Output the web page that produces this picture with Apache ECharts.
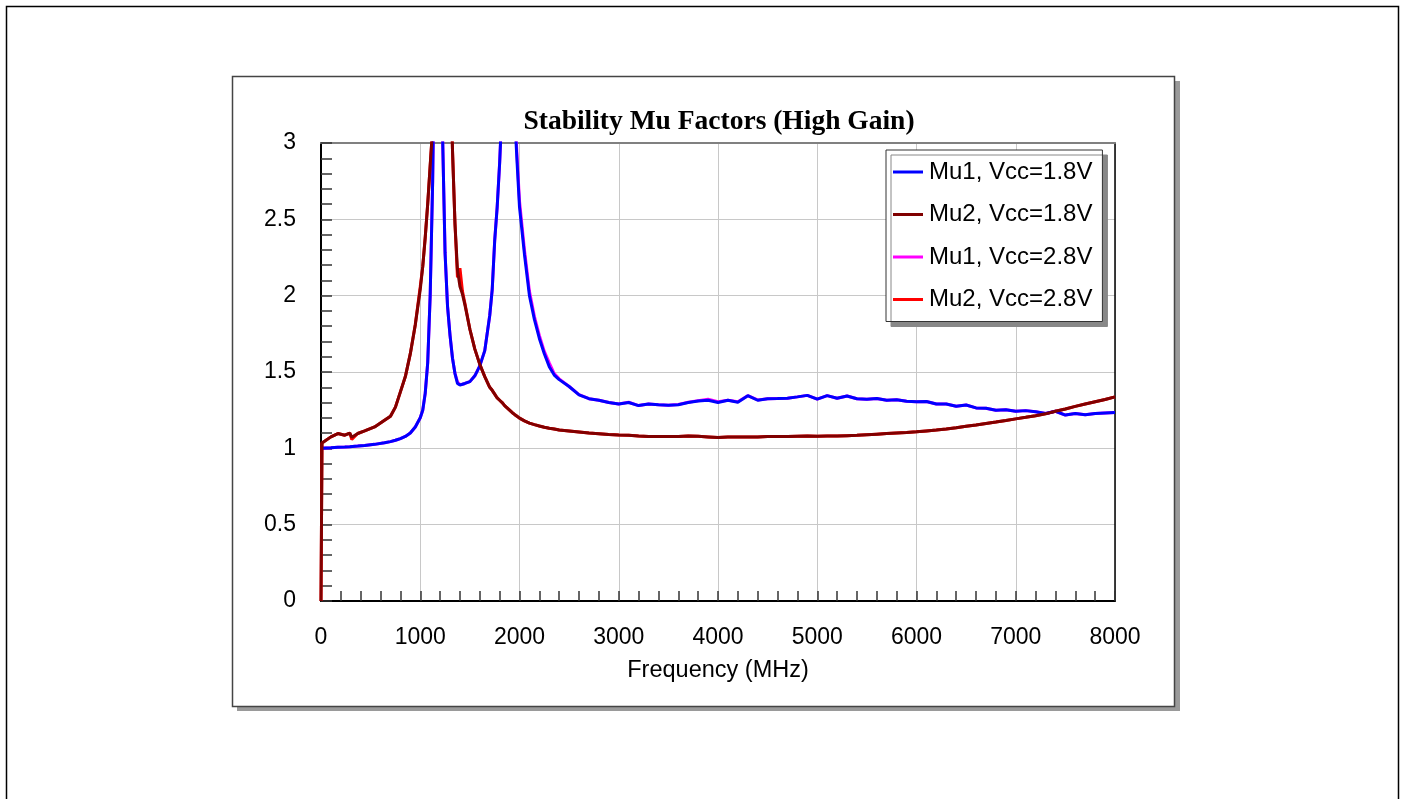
<!DOCTYPE html>
<html><head><meta charset="utf-8">
<script src="https://cdn.jsdelivr.net/npm/echarts@6/dist/echarts.min.js"></script>
<style>html,body{margin:0;padding:0;background:#fff}#c{width:1405px;height:799px}</style>
</head><body><div id="c"></div>
<script>
const freqs = [0,10,100,170,240,290,310,370,440,540,
640,700,750,800,850,900,950,1000,1025,1050,
1075,1100,1125,1150,1175,1200,1225,1250,1275,1300,
1325,1350,1375,1400,1425,1450,1500,1550,1600,1650,
1700,1725,1750,1775,1800,1825,1850,1875,1900,1925,
1950,1975,2000,2050,2100,2150,2200,2250,2300,2350,
2400,2500,2600,2700,2800,
2900,3000,3100,3200,3300,3400,3500,3600,3700,3800,
3900,4000,4100,4200,4300,4400,4500,4600,4700,4800,
4900,5000,5100,5200,5300,5400,5500,5600,5700,5800,
5900,6000,6100,6200,6300,6400,6500,6600,6700,6800,
6900,7000,7100,7200,7300,7400,7500,7600,7700,7800,
7900,8000];

const mu1_18 = [1.00,1.00,1.004,1.007,1.009,1.011,1.012,1.015,1.019,1.026,
1.036,1.044,1.053,1.064,1.078,1.10,1.14,1.20,1.25,1.36,
1.56,2.00,2.75,4.0,6.0,4.6,3.05,2.28,1.93,1.74,
1.59,1.49,1.425,1.415,1.42,1.425,1.437,1.475,1.54,1.64,
1.87,2.04,2.36,2.58,2.87,3.25,4.2,6.0,6.0,4.5,
3.2,2.88,2.58,2.27,2.00,1.845,1.72,1.62,1.535,1.48,
1.45,1.405,1.35,1.325,1.315,
1.30,1.29,1.30,1.28,1.29,1.285,1.282,1.285,1.30,1.31,
1.315,1.30,1.315,1.302,1.345,1.315,1.325,1.326,1.328,1.337,
1.347,1.322,1.345,1.328,1.343,1.325,1.322,1.327,1.315,1.318,
1.308,1.305,1.307,1.29,1.29,1.276,1.284,1.265,1.263,1.25,
1.253,1.243,1.247,1.24,1.228,1.243,1.218,1.228,1.22,1.228,
1.232,1.234];

const mu2_18 = [0,1.035,1.075,1.097,1.086,1.10,1.072,1.097,1.114,1.14,
1.184,1.21,1.27,1.37,1.47,1.62,1.81,2.04,2.19,2.38,
2.60,2.85,3.1,3.6,4.5,6.0,7.0,6.0,4.8,3.6,
2.95,2.47,2.17,2.06,2.01,1.94,1.78,1.65,1.55,1.47,
1.40,1.38,1.355,1.33,1.315,1.30,1.28,1.265,1.25,1.235,
1.222,1.21,1.198,1.18,1.165,1.155,1.146,1.138,1.132,1.127,
1.12,1.114,1.107,1.10,1.096,
1.09,1.087,1.085,1.08,1.077,1.078,1.077,1.078,1.08,1.079,
1.075,1.071,1.074,1.075,1.074,1.075,1.077,1.077,1.078,1.079,
1.08,1.079,1.08,1.081,1.083,1.085,1.089,1.093,1.097,1.10,
1.103,1.108,1.114,1.12,1.127,1.135,1.144,1.153,1.163,1.172,
1.182,1.193,1.203,1.214,1.226,1.243,1.258,1.275,1.29,1.305,
1.32,1.337];

const mu1_28 = [1.00,1.00,1.004,1.007,1.009,1.011,1.012,1.015,1.019,1.026,
1.036,1.044,1.053,1.064,1.078,1.10,1.14,1.20,1.25,1.36,
1.56,2.00,2.75,4.0,6.0,4.6,3.05,2.28,1.93,1.74,
1.59,1.49,1.435,1.418,1.42,1.425,1.437,1.475,1.54,1.64,
1.87,2.04,2.36,2.58,2.87,3.25,4.2,6.0,6.0,4.5,
3.25,2.92,2.62,2.30,2.03,1.865,1.74,1.635,1.56,1.49,
1.455,1.405,1.352,1.325,1.315,
1.30,1.29,1.302,1.28,1.29,1.285,1.283,1.287,1.302,1.312,
1.322,1.305,1.315,1.305,1.345,1.317,1.325,1.327,1.328,1.337,
1.347,1.322,1.345,1.328,1.343,1.325,1.322,1.327,1.315,1.318,
1.308,1.305,1.307,1.29,1.29,1.276,1.284,1.265,1.263,1.25,
1.253,1.243,1.247,1.24,1.228,1.243,1.218,1.228,1.22,1.228,
1.232,1.234];

const mu2_28 = [0,1.035,1.075,1.097,1.086,1.10,1.058,1.097,1.114,1.14,
1.184,1.21,1.27,1.37,1.47,1.62,1.81,2.06,2.19,2.38,
2.60,2.85,3.1,3.6,4.5,6.0,7.0,6.0,4.8,3.6,
2.95,2.47,2.12,2.18,2.03,1.95,1.78,1.65,1.55,1.47,
1.40,1.38,1.355,1.33,1.315,1.30,1.28,1.265,1.25,1.235,
1.222,1.21,1.198,1.18,1.165,1.155,1.146,1.138,1.132,1.127,
1.12,1.114,1.107,1.10,1.096,
1.09,1.087,1.085,1.08,1.077,1.078,1.077,1.078,1.08,1.079,
1.075,1.071,1.074,1.075,1.074,1.075,1.077,1.077,1.078,1.079,
1.08,1.079,1.08,1.081,1.083,1.085,1.089,1.093,1.097,1.10,
1.103,1.108,1.114,1.12,1.127,1.135,1.144,1.153,1.163,1.172,
1.182,1.193,1.203,1.214,1.226,1.243,1.258,1.275,1.29,1.305,
1.32,1.337];

const seriesNames = ['Mu1, Vcc=1.8V','Mu2, Vcc=1.8V','Mu1, Vcc=2.8V','Mu2, Vcc=2.8V'];
const seriesColors = ['#0000ff','#800000','#ff00ff','#ff0000'];
const seriesValues = [mu1_18, mu2_18, mu1_28, mu2_28];
const seriesZ = [6, 6, 4, 4];
const titleText = 'Stability Mu Factors (High Gain)';
const xName = 'Frequency (MHz)';

const chart = echarts.init(document.getElementById('c'), null, {renderer:'canvas'});
const sans = '"Liberation Sans", Arial, sans-serif';
const serif = '"Liberation Serif", "Times New Roman", serif';

const series = seriesNames.map((n,k)=>({
  name:n, type:'line', xAxisIndex:0, yAxisIndex:0,
  data: freqs.map((f,i)=>[f, seriesValues[k][i]]),
  showSymbol:false, symbol:'none', z:seriesZ[k], clip:true,
  lineStyle:{color:seriesColors[k], width:3}, itemStyle:{color:seriesColors[k]},
  animation:false
}));

chart.setOption({
  animation:false,
  backgroundColor:'#fff',
  graphic:[
    {type:'rect', z:-20, silent:true, shape:{x:6.5,y:6.5,width:1392,height:900}, style:{fill:'#fff', stroke:'#000', lineWidth:1.5}},
    {type:'rect', z:-19, silent:true, shape:{x:237,y:81,width:943,height:630}, style:{fill:'#9a9a9a'}},
    {type:'rect', z:-18, silent:true, shape:{x:232.5,y:76.5,width:942,height:630}, style:{fill:'#fff', stroke:'#444', lineWidth:1.5}}
  ],
  title:{text:titleText, left:714, top:103, textAlign:'center',
    textStyle:{fontFamily:serif, fontWeight:'bold', fontSize:27.5, color:'#000'}},
  legend:{orient:'vertical', left:886, top:150, icon:'rect', itemWidth:30, itemHeight:3,
    itemGap:18.5, padding:[10,10,10,7],
    backgroundColor:'#fff', borderColor:'#333', borderWidth:1,
    shadowColor:'#888', shadowBlur:0, shadowOffsetX:5, shadowOffsetY:5,
    textStyle:{fontFamily:sans, fontSize:24, lineHeight:22, color:'#000', padding:[0,0,0,1]},
    data:seriesNames},
  grid:{left:321, top:143, width:794, height:458, show:false},
  xAxis:[{type:'value', min:0, max:8000, interval:1000, position:'bottom',
    name:xName, nameLocation:'middle', nameGap:58,
    nameTextStyle:{fontFamily:sans, fontSize:23.5, color:'#000'},
    axisLine:{show:true, onZero:false, lineStyle:{color:'#000', width:2}},
    axisTick:{show:true, inside:true, length:10, lineStyle:{color:'#333', width:1.5}},
    minorTick:{show:true, splitNumber:5, length:10, lineStyle:{color:'#333', width:1.5}},
    axisLabel:{margin:25, fontFamily:sans, fontSize:23, color:'#000', formatter:(v)=>String(v)},
    splitLine:{show:true, lineStyle:{color:'#c8c8c8', width:1}}},
   {type:'value', min:0, max:8000, interval:1000, position:'top',
    axisLine:{show:true, onZero:false, lineStyle:{color:'#808080', width:2}},
    axisTick:{show:false}, axisLabel:{show:false}, splitLine:{show:false}}],
  yAxis:[{type:'value', min:0, max:3, interval:0.5, position:'left',
    axisLine:{show:true, onZero:false, lineStyle:{color:'#000', width:2}},
    axisTick:{show:true, inside:true, length:11, lineStyle:{color:'#333', width:1.5}},
    minorTick:{show:true, splitNumber:5, length:11, lineStyle:{color:'#333', width:1.5}},
    axisLabel:{margin:25, fontFamily:sans, fontSize:23, color:'#000'},
    splitLine:{show:true, lineStyle:{color:'#c8c8c8', width:1}}},
   {type:'value', min:0, max:3, interval:0.5, position:'right',
    axisLine:{show:true, onZero:false, lineStyle:{color:'#000', width:1.5}},
    axisTick:{show:false}, axisLabel:{show:false}, splitLine:{show:false}}],
  series: series
});
</script>
</body></html>
